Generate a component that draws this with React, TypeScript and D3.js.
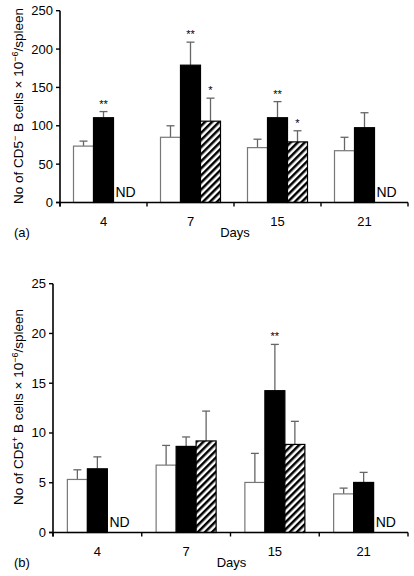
import React from "react";
import * as d3 from "d3";

const days = ["4", "7", "15", "21"];
const series = ["control", "treated", "hatched"];

// Panel (a): CD5- B cells
const aControl = [73.5, 85, 71.5, 67.5];
const aControlErr = [6.5, 15, 11, 17.5];
const aTreated = [110.5, 179, 110.5, 97.5];
const aTreatedErr = [8, 30, 21, 19.5];
const aHatched: (number | null)[] = [null, 106, 79, null];
const aHatchedErr: (number | null)[] = [null, 30, 14.5, null];
const aTreatedStars = ["**", "**", "**", ""];
const aHatchedStars = ["", "*", "*", ""];
const aTicks = [0, 50, 100, 150, 200, 250];

// Panel (b): CD5+ B cells
const bControl = [5.33, 6.77, 5.03, 3.88];
const bControlErr = [0.97, 1.98, 2.92, 0.58];
const bTreated = [6.4, 8.65, 14.25, 5.03];
const bTreatedErr = [1.2, 0.95, 4.65, 1.01];
const bHatched: (number | null)[] = [null, 9.2, 8.85, null];
const bHatchedErr: (number | null)[] = [null, 3.0, 2.32, null];
const bTreatedStars = ["", "", "**", ""];
const bHatchedStars = ["", "", "", ""];
const bTicks = [0, 5, 10, 15, 20, 25];

const FONT = "'Liberation Sans', Arial, Helvetica, sans-serif";

type PanelProps = {
  x0: number;
  x1: number;
  yBase: number;
  yTop: number;
  yMax: number;
  ticks: number[];
  control: number[];
  controlErr: number[];
  treated: number[];
  treatedErr: number[];
  hatched: (number | null)[];
  hatchedErr: (number | null)[];
  treatedStars: string[];
  hatchedStars: string[];
  sign: string;
  letter: string;
  labelY: number;
};

function Panel(p: PanelProps) {
  const x = d3.scaleBand<string>().domain(days).range([p.x0, p.x1]).padding(0);
  const inner = d3.scaleBand<string>().domain(series).range([0, 60]).padding(0);
  const y = d3.scaleLinear().domain([0, p.yMax]).range([p.yBase, p.yTop]);
  const bw = inner.bandwidth();
  const gx = (d: string) => (x(d) as number) + x.bandwidth() / 2 - 30;

  const bars: any[] = [];
  days.forEach((d, i) => {
    const defs = [
      { s: "control", v: p.control[i], e: p.controlErr[i], fill: "#fff", stroke: "#777", star: "" },
      { s: "treated", v: p.treated[i], e: p.treatedErr[i], fill: "#000", stroke: "#000", star: p.treatedStars[i] },
      { s: "hatched", v: p.hatched[i], e: p.hatchedErr[i], fill: "url(#hatch)", stroke: "#000", star: p.hatchedStars[i] },
    ];
    defs.forEach((b) => {
      const bx = gx(d) + (inner(b.s) as number);
      if (b.v == null) {
        bars.push(
          <text key={`nd${d}`} x={bx + 2} y={p.yBase - 6} fontSize={14} fontFamily={FONT}>
            ND
          </text>
        );
        return;
      }
      const top = y(b.v);
      const et = y(b.v + (b.e as number));
      const cx = bx + bw / 2;
      bars.push(
        <g key={`${d}-${b.s}`}>
          <line x1={cx} x2={cx} y1={top} y2={et} stroke="#666" strokeWidth={1.3} />
          <line x1={cx - 4} x2={cx + 4} y1={et} y2={et} stroke="#666" strokeWidth={1.3} />
          <rect x={bx} y={top} width={bw} height={p.yBase - top} fill={b.fill} stroke={b.stroke} strokeWidth={1.2} />
          {b.star ? (
            <text x={cx} y={et - 4} textAnchor="middle" fontSize={11} fontFamily={FONT}>
              {b.star}
            </text>
          ) : null}
        </g>
      );
    });
  });

  const boundaries = [...days.map((d) => x(d) as number), p.x1];

  return (
    <g>
      {bars}
      {/* y axis */}
      <line x1={p.x0} x2={p.x0} y1={y(p.yMax)} y2={p.yBase + 4} stroke="#000" strokeWidth={1.6} />
      {p.ticks.map((t) => (
        <g key={t}>
          <line x1={p.x0 - 4} x2={p.x0} y1={y(t)} y2={y(t)} stroke="#000" strokeWidth={1.4} />
          <text x={p.x0 - 7} y={y(t) + 4.5} textAnchor="end" fontSize={13} fontFamily={FONT}>
            {t}
          </text>
        </g>
      ))}
      {/* x axis */}
      <line x1={p.x0 - 4} x2={p.x1} y1={p.yBase} y2={p.yBase} stroke="#000" strokeWidth={1.6} />
      {boundaries.map((b, i) => (
        <line key={i} x1={b} x2={b} y1={p.yBase} y2={p.yBase + 4} stroke="#000" strokeWidth={1.4} />
      ))}
      {days.map((d) => (
        <text key={d} x={(x(d) as number) + x.bandwidth() / 2} y={p.yBase + 23} textAnchor="middle" fontSize={13} fontFamily={FONT}>
          {d}
        </text>
      ))}
      <text x={(p.x0 + p.x1) / 2 + 1} y={p.yBase + 34} textAnchor="middle" fontSize={13} fontFamily={FONT}>
        Days
      </text>
      <text x={14} y={p.yBase + 34} fontSize={13} fontFamily={FONT}>
        {p.letter}
      </text>
      <text transform={`translate(23,${p.labelY}) rotate(-90)`} textAnchor="middle" fontSize={13.5} fontFamily={FONT}>
        No of CD5
        <tspan dy={-5} fontSize={9}>{p.sign}</tspan>
        <tspan dy={5}> B cells × 10</tspan>
        <tspan dy={-5} fontSize={9}>−6</tspan>
        <tspan dy={5}>/spleen</tspan>
      </text>
    </g>
  );
}

export default function App() {
  return (
    <svg width={414} height={576} style={{ position: "absolute", left: 0, top: 0, background: "#fff" }}>
      <defs>
        <pattern id="hatch" patternUnits="userSpaceOnUse" width={5} height={5} patternTransform="rotate(45)">
          <rect width={5} height={5} fill="#fff" />
          <rect width={2.5} height={5} fill="#000" />
        </pattern>
      </defs>
      <rect width={414} height={576} fill="#fff" />
      <Panel
        x0={60}
        x1={408}
        yBase={202.5}
        yTop={10.7}
        yMax={250}
        ticks={aTicks}
        control={aControl}
        controlErr={aControlErr}
        treated={aTreated}
        treatedErr={aTreatedErr}
        hatched={aHatched}
        hatchedErr={aHatchedErr}
        treatedStars={aTreatedStars}
        hatchedStars={aHatchedStars}
        sign="−"
        letter="(a)"
        labelY={106}
      />
      <Panel
        x0={53}
        x1={408}
        yBase={532.5}
        yTop={283.7}
        yMax={25}
        ticks={bTicks}
        control={bControl}
        controlErr={bControlErr}
        treated={bTreated}
        treatedErr={bTreatedErr}
        hatched={bHatched}
        hatchedErr={bHatchedErr}
        treatedStars={bTreatedStars}
        hatchedStars={bHatchedStars}
        sign="+"
        letter="(b)"
        labelY={407}
      />
    </svg>
  );
}
